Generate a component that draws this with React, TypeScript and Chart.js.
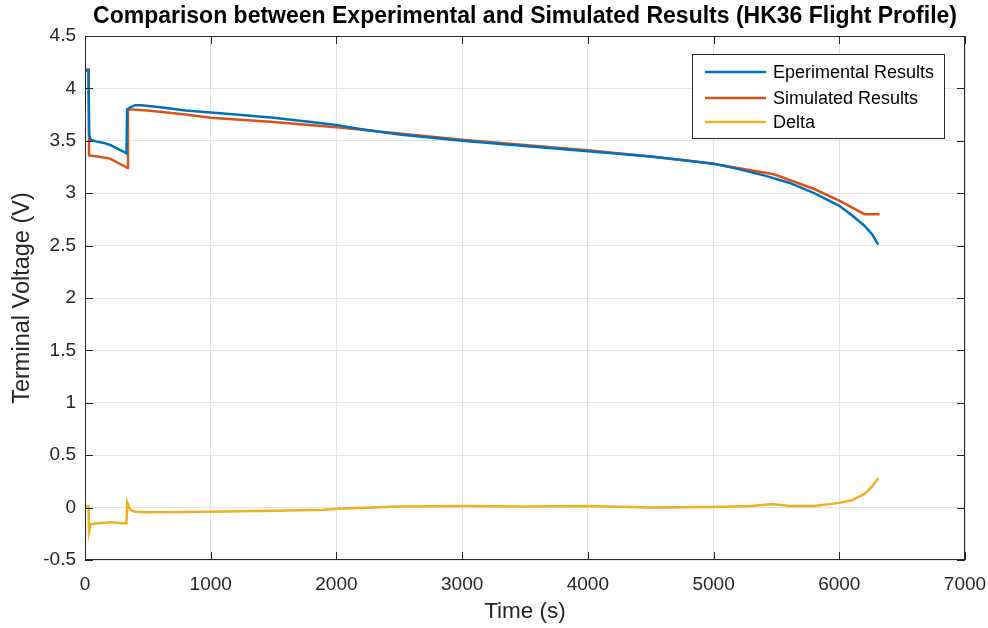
import React, { useEffect, useRef } from "react";
import { Chart, registerables } from "chart.js";

Chart.register(...registerables);

const TITLE = "Comparison between Experimental and Simulated Results (HK36 Flight Profile)";
const X_LABEL = "Time (s)";
const Y_LABEL = "Terminal Voltage (V)";
const SERIES_LABELS = ["Eperimental Results", "Simulated Results", "Delta"];
const SERIES_COLORS = ["#0072BD", "#D95319", "#EDB120"];

const expTime = [0, 27, 33, 45, 100, 150, 200, 250, 300, 330, 335, 360, 400, 450, 600, 800, 1000, 1200, 1500, 1800, 2000, 2200, 2500, 3000, 3500, 4000, 4500, 4800, 5000, 5200, 5400, 5600, 5800, 6000, 6100, 6200, 6260, 6310];
const expVolt = [4.17, 4.17, 3.56, 3.51, 3.49, 3.48, 3.46, 3.43, 3.40, 3.38, 3.80, 3.82, 3.84, 3.84, 3.82, 3.79, 3.77, 3.75, 3.72, 3.68, 3.65, 3.61, 3.56, 3.50, 3.45, 3.40, 3.35, 3.31, 3.28, 3.23, 3.17, 3.10, 3.00, 2.88, 2.79, 2.69, 2.61, 2.51];

const simTime = [0, 30, 32, 100, 200, 340, 342, 500, 800, 1000, 1500, 2000, 2500, 3000, 3500, 4000, 4500, 5000, 5480, 5800, 6000, 6200, 6320];
const simVolt = [4.18, 4.18, 3.36, 3.35, 3.33, 3.24, 3.80, 3.79, 3.75, 3.72, 3.68, 3.63, 3.57, 3.51, 3.46, 3.41, 3.35, 3.28, 3.18, 3.04, 2.93, 2.80, 2.80];

const deltaTime = [0, 28, 32, 45, 100, 200, 300, 330, 336, 360, 400, 500, 1000, 1500, 1900, 2000, 2500, 3000, 3500, 4000, 4500, 5000, 5300, 5470, 5600, 5800, 6000, 6100, 6200, 6260, 6310];
const deltaVolt = [0.01, 0.01, -0.23, -0.16, -0.15, -0.14, -0.15, -0.15, 0.05, -0.02, -0.04, -0.045, -0.04, -0.03, -0.02, -0.01, 0.01, 0.015, 0.01, 0.015, 0, 0.005, 0.015, 0.035, 0.015, 0.015, 0.045, 0.07, 0.13, 0.2, 0.28];

const X_MIN = 0, X_MAX = 7000, X_STEP = 1000;
const Y_MIN = -0.5, Y_MAX = 4.5, Y_STEP = 0.5;

const toPts = (xs: number[], ys: number[]) => xs.map((x, i) => ({ x, y: ys[i] }));

const FONT = "Helvetica, Arial, 'Liberation Sans', sans-serif";

const matlabPlugin = {
  id: "matlabDecor",
  afterDraw(chart: any) {
    const { ctx, chartArea: a, scales } = chart;
    ctx.save();
    ctx.strokeStyle = "#262626";
    ctx.lineWidth = 1;
    ctx.strokeRect(a.left + 0.5, a.top + 0.5, a.right - a.left - 1, a.bottom - a.top - 1);
    const tl = 8;
    ctx.beginPath();
    scales.x.ticks.forEach((t: any) => {
      const px = Math.round(scales.x.getPixelForValue(t.value)) + 0.5;
      ctx.moveTo(px, a.bottom); ctx.lineTo(px, a.bottom - tl);
      ctx.moveTo(px, a.top); ctx.lineTo(px, a.top + tl);
    });
    scales.y.ticks.forEach((t: any) => {
      const py = Math.round(scales.y.getPixelForValue(t.value)) + 0.5;
      ctx.moveTo(a.left, py); ctx.lineTo(a.left + tl, py);
      ctx.moveTo(a.right, py); ctx.lineTo(a.right - tl, py);
    });
    ctx.stroke();
    // title
    ctx.fillStyle = "#000";
    ctx.font = `bold 23px ${FONT}`;
    ctx.textAlign = "center";
    ctx.textBaseline = "middle";
    ctx.fillText(TITLE, (a.left + a.right) / 2, 17);
    // axis titles
    ctx.fillStyle = "#262626";
    ctx.font = `22.5px ${FONT}`;
    ctx.fillText(X_LABEL, (a.left + a.right) / 2, 612);
    ctx.save();
    ctx.font = `23.5px ${FONT}`;
    ctx.translate(23, (a.top + a.bottom) / 2);
    ctx.rotate(-Math.PI / 2);
    ctx.fillText(Y_LABEL, 0, 0);
    ctx.restore();
    // legend
    const lx = 692, ly = 54, lw = 252, lh = 84;
    ctx.fillStyle = "#fff";
    ctx.fillRect(lx, ly, lw, lh);
    ctx.strokeStyle = "#262626";
    ctx.lineWidth = 1;
    ctx.strokeRect(lx + 0.5, ly + 0.5, lw, lh);
    ctx.font = `18px ${FONT}`;
    ctx.textAlign = "left";
    ctx.textBaseline = "middle";
    const rows = [72, 98, 122];
    chart.data.datasets.forEach((ds: any, i: number) => {
      ctx.strokeStyle = ds.borderColor;
      ctx.lineWidth = 2.5;
      ctx.beginPath();
      ctx.moveTo(705, rows[i]);
      ctx.lineTo(766, rows[i]);
      ctx.stroke();
      ctx.fillStyle = "#000";
      ctx.fillText(ds.label, 773, rows[i] + 1);
    });
    ctx.restore();
  },
};

export default function App() {
  const ref = useRef<HTMLCanvasElement | null>(null);
  useEffect(() => {
    if (!ref.current) return;
    const seriesX = [expTime, simTime, deltaTime];
    const seriesY = [expVolt, simVolt, deltaVolt];
    const chart = new Chart(ref.current, {
      type: "line",
      data: {
        datasets: SERIES_LABELS.map((label, i) => ({
          label,
          data: toPts(seriesX[i], seriesY[i]),
          borderColor: SERIES_COLORS[i],
          backgroundColor: SERIES_COLORS[i],
          borderWidth: 2.5,
          pointRadius: 0,
          tension: 0,
          fill: false,
        })),
      },
      options: {
        responsive: false,
        animation: false,
        maintainAspectRatio: false,
        layout: { padding: { top: 36, right: 23, left: 0, bottom: 0 } },
        plugins: {
          legend: { display: false },
          title: { display: false },
          tooltip: { enabled: false },
        },
        scales: {
          x: {
            type: "linear",
            min: X_MIN,
            max: X_MAX,
            afterFit: (s: any) => { s.height = 68; s.paddingLeft = 0; s.paddingRight = 0; },
            grid: { color: "#e3e3e3", drawTicks: false, lineWidth: 1 },
            border: { display: false },
            ticks: {
              stepSize: X_STEP,
              padding: 13,
              color: "#262626",
              font: { size: 19, family: FONT },
              maxRotation: 0,
              autoSkip: false,
              callback: (v: any) => String(v),
            },
          },
          y: {
            type: "linear",
            min: Y_MIN,
            max: Y_MAX,
            afterFit: (s: any) => { s.width = 85; s.paddingTop = 0; s.paddingBottom = 0; },
            grid: { color: "#e3e3e3", drawTicks: false, lineWidth: 1 },
            border: { display: false },
            ticks: {
              stepSize: Y_STEP,
              padding: 9,
              color: "#262626",
              font: { size: 19, family: FONT },
              autoSkip: false,
              callback: (v: any) => String(Math.round(v * 10) / 10),
            },
          },
        },
      },
      plugins: [matlabPlugin],
    });
    return () => chart.destroy();
  }, []);
  return (
    <div style={{ position: "absolute", left: 0, top: 0, width: 988, height: 628, background: "#fff" }}>
      <canvas ref={ref} width={988} height={628} style={{ width: 988, height: 628, display: "block" }} />
    </div>
  );
}
